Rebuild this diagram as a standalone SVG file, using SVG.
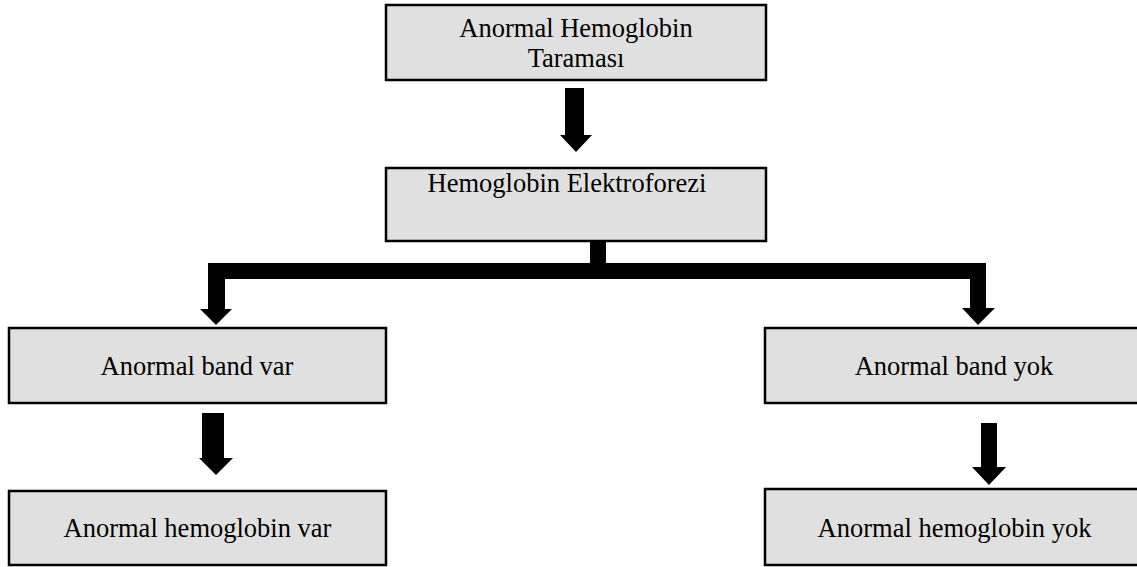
<svg xmlns="http://www.w3.org/2000/svg" width="1137" height="567" viewBox="0 0 1137 567">
<style>
.box{fill:#e0e0e0;stroke:#000;stroke-width:2.5}
.t{font-family:"Liberation Serif","Times New Roman",serif;font-size:26.5px;fill:#000;text-anchor:middle}
.c{fill:#000}
</style>
<rect width="1137" height="567" fill="#fff"/>
<g id="n1"><rect class="box" x="386" y="5" width="380" height="75"/><text class="t" x="576" y="37">Anormal Hemoglobin</text><text class="t" x="576" y="67">Taraması</text></g>
<g id="n2"><rect class="box" x="386" y="168" width="380" height="73"/><text class="t" x="567" y="192">Hemoglobin Elektroforezi</text></g>
<g id="n3"><rect class="box" x="9" y="328" width="377" height="75"/><text class="t" x="197" y="375">Anormal band var</text></g>
<g id="n4"><rect class="box" x="9" y="491" width="377" height="74"/><text class="t" x="197.5" y="537">Anormal hemoglobin var</text></g>
<g id="n5"><rect class="box" x="765" y="328" width="380" height="75"/><text class="t" x="954" y="375">Anormal band yok</text></g>
<g id="n6"><rect class="box" x="765" y="489" width="380" height="76"/><text class="t" x="954.5" y="537">Anormal hemoglobin yok</text></g>
<g id="connectors">
<polygon class="c" points="565,88 584,88 584,135 592,135 576,152 560,135 565,135"/>
<polygon class="c" points="590,241 606,241 606,263 986,263 986,308 995,308 978,325 962,308 970,308 970,279 225,279 225,309 232,309 216,325 200,309 208,309 208,263 590,263"/>
<polygon class="c" points="202,413 224,413 224,458 233,458 216,475 199,458 202,458"/>
<polygon class="c" points="981,423 997,423 997,467 1006,467 989,485 972,467 981,467"/>
</g>
</svg>
